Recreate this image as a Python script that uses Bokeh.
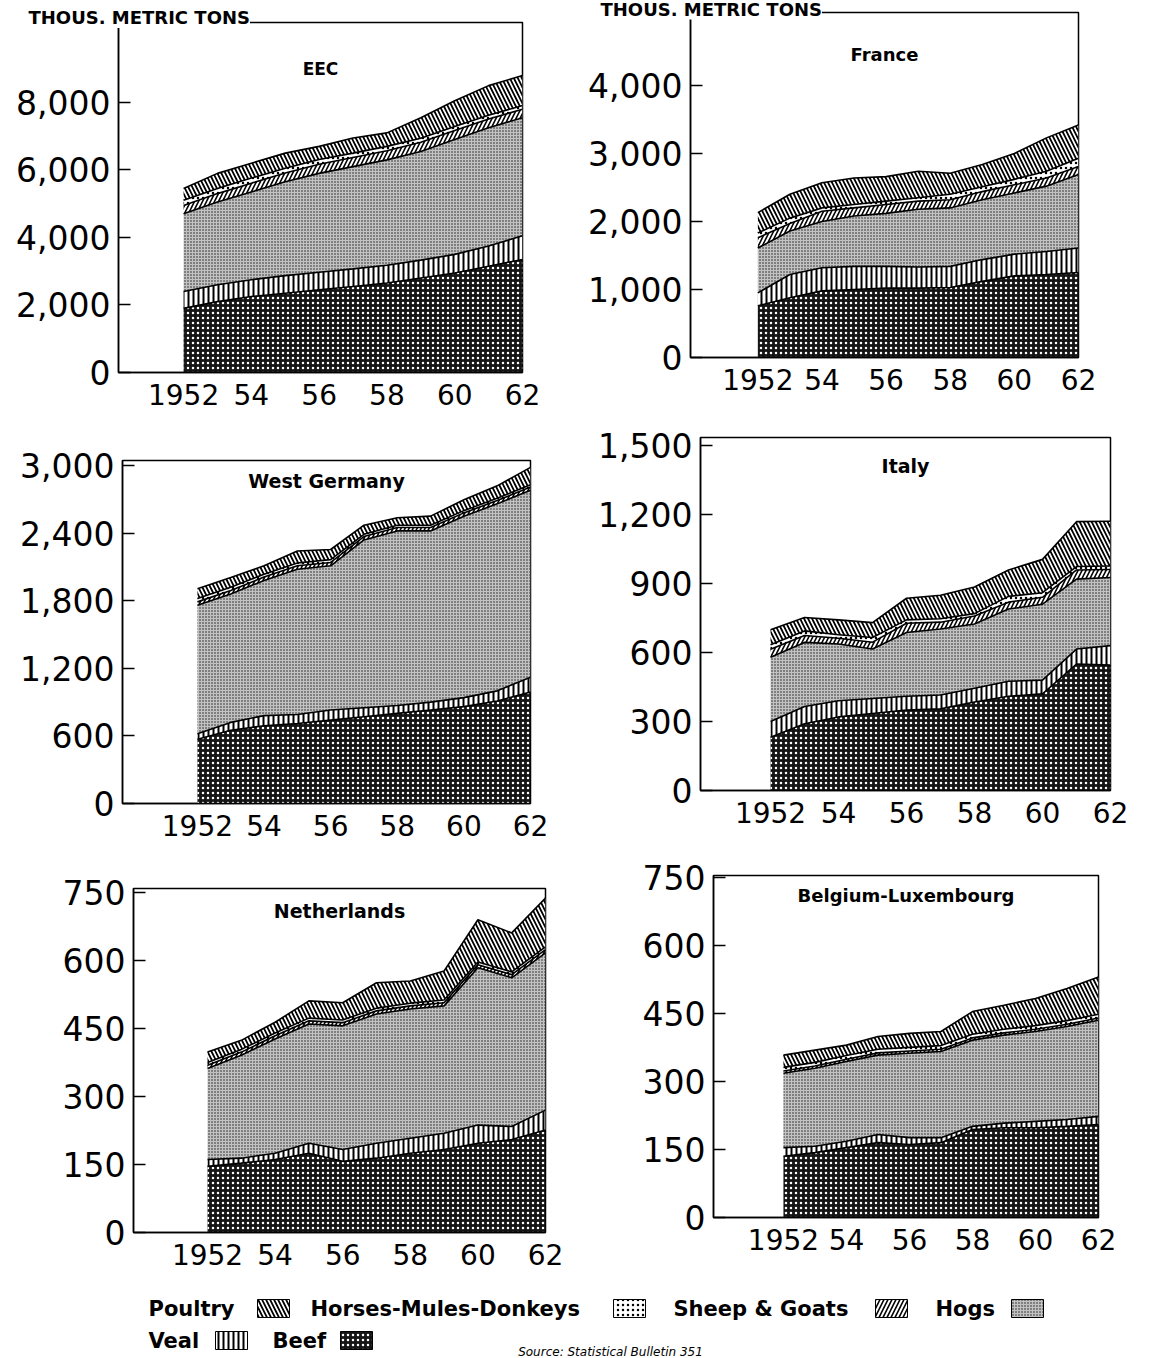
from bokeh.plotting import figure
from bokeh.models import ColumnDataSource, FixedTicker, Range1d, Label, NumeralTickFormatter
from bokeh.layouts import column, row
from bokeh.embed import file_html
from bokeh.resources import INLINE
from bokeh.core.properties import value

# ---------------- data (thousand metric tons) ----------------
years = [1952, 1953, 1954, 1955, 1956, 1957, 1958, 1959, 1960, 1961, 1962]
layers = ["beef", "veal", "hogs", "sheep", "horses", "poultry"]
layer_names = ["Beef", "Veal", "Hogs", "Sheep & Goats", "Horses-Mules-Donkeys", "Poultry"]

eec_beef = [1900, 2100, 2250, 2350, 2450, 2550, 2650, 2800, 2950, 3150, 3350]
eec_veal = [500, 500, 500, 520, 520, 520, 530, 530, 550, 600, 700]
eec_hogs = [2300, 2450, 2600, 2780, 2930, 3030, 3120, 3220, 3400, 3500, 3500]
eec_sheep = [250, 250, 260, 260, 270, 270, 270, 270, 270, 260, 250]
eec_horses = [150, 150, 150, 140, 140, 130, 130, 120, 120, 110, 110]
eec_poultry = [350, 450, 440, 450, 390, 450, 400, 610, 760, 880, 890]

fr_beef = [760, 880, 980, 1000, 1020, 1020, 1030, 1120, 1200, 1220, 1250]
fr_veal = [190, 340, 340, 340, 320, 310, 310, 320, 320, 340, 360]
fr_hogs = [660, 640, 680, 740, 780, 850, 860, 880, 900, 960, 1080]
fr_sheep = [150, 110, 150, 120, 130, 120, 120, 120, 120, 120, 120]
fr_horses = [70, 80, 50, 50, 50, 50, 80, 70, 80, 100, 120]
fr_poultry = [300, 350, 370, 390, 360, 390, 310, 330, 380, 490, 490]

wg_beef = [570, 650, 690, 710, 740, 770, 800, 830, 860, 910, 990]
wg_veal = [50, 70, 90, 80, 90, 80, 70, 70, 80, 90, 130]
wg_hogs = [1140, 1140, 1200, 1290, 1280, 1490, 1550, 1520, 1610, 1660, 1660]
wg_sheep = [30, 30, 30, 30, 30, 30, 30, 30, 30, 30, 30]
wg_horses = [30, 30, 25, 25, 25, 20, 20, 20, 20, 20, 20]
wg_poultry = [86, 86, 76, 106, 90, 81, 67, 81, 96, 110, 154]

it_beef = [232, 290, 320, 335, 350, 355, 385, 410, 420, 550, 545]
it_veal = [68, 75, 70, 65, 60, 60, 60, 65, 60, 65, 85]
it_hogs = [279, 279, 247, 215, 277, 287, 279, 314, 330, 304, 296]
it_sheep = [35, 30, 25, 30, 40, 30, 35, 30, 30, 40, 35]
it_horses = [20, 20, 15, 20, 15, 15, 10, 25, 20, 15, 15]
it_poultry = [65, 58, 65, 65, 94, 102, 116, 115, 145, 195, 195]

nl_beef = [146, 153, 161, 175, 157, 164, 175, 183, 197, 205, 226]
nl_veal = [15, 11, 14, 22, 26, 33, 33, 36, 40, 29, 44]
nl_hogs = [201, 227, 252, 263, 273, 285, 285, 281, 347, 328, 347]
nl_sheep = [7, 7, 7, 7, 7, 7, 7, 7, 7, 7, 7]
nl_horses = [6, 6, 6, 6, 6, 6, 6, 6, 6, 6, 6]
nl_poultry = [23, 20, 24, 38, 38, 56, 49, 64, 93, 86, 108]

bl_beef = [135, 143, 154, 165, 161, 165, 194, 198, 198, 201, 205]
bl_veal = [19, 14, 14, 18, 15, 11, 7, 10, 14, 15, 18]
bl_hogs = [164, 172, 176, 175, 186, 190, 190, 194, 198, 205, 212]
bl_sheep = [5, 5, 5, 5, 5, 5, 5, 5, 5, 5, 5]
bl_horses = [8, 8, 8, 8, 8, 8, 8, 8, 8, 8, 8]
bl_poultry = [27, 27, 23, 28, 31, 31, 50, 53, 60, 71, 82]

x_ticks = [1952, 1954, 1956, 1958, 1960, 1962]
x_tick_labels = ["1952", "54", "56", "58", "60", "62"]

eec_yticks = [0, 2000, 4000, 6000, 8000]
fr_yticks = [0, 1000, 2000, 3000, 4000]
wg_yticks = [0, 600, 1200, 1800, 2400, 3000]
it_yticks = [0, 300, 600, 900, 1200, 1500]
nl_yticks = [0, 150, 300, 450, 600, 750]
bl_yticks = [0, 150, 300, 450, 600, 750]

unit_label = "THOUS. METRIC TONS"
source_note = "Source: Statistical Bulletin 351"

# ---------------- styles ----------------
STYLE = {
    "beef": dict(fill_color="#151515", hatch_pattern="dot", hatch_color="white", hatch_scale=5, hatch_weight=1.3),
    "veal": dict(fill_color="white", hatch_pattern="vertical_line", hatch_color="black", hatch_scale=5, hatch_weight=2),
    "hogs": dict(fill_color="#c2c2c2", hatch_pattern="dot", hatch_color="#1a1a1a", hatch_scale=3, hatch_weight=1.1),
    "sheep": dict(fill_color="white", hatch_pattern="right_diagonal_line", hatch_color="black", hatch_scale=8, hatch_weight=1.6),
    "horses": dict(fill_color="white", hatch_pattern="dot", hatch_color="black", hatch_scale=5, hatch_weight=1.5),
    "poultry": dict(fill_color="white", hatch_pattern="left_diagonal_line", hatch_color="black", hatch_scale=8, hatch_weight=1.8),
}

FONT = "DejaVu Sans"

panels = [
    dict(name="EEC", data=[eec_beef, eec_veal, eec_hogs, eec_sheep, eec_horses, eec_poultry], yticks=eec_yticks,
         y_end=10370, x_start=1950.08, w=578, h=420, bl=118, br=56, bt=22, bb=48, tdy=46, unit=True,
         ustand=-11, tsize=17),
    dict(name="France", data=[fr_beef, fr_veal, fr_hogs, fr_sheep, fr_horses, fr_poultry], yticks=fr_yticks,
         y_end=5074, x_start=1949.9, w=578, h=420, bl=112, br=78, bt=12, bb=63, tdy=42, unit=True,
         ustand=-14, tsize=18),
    dict(name="West Germany", data=[wg_beef, wg_veal, wg_hogs, wg_sheep, wg_horses, wg_poultry], yticks=wg_yticks,
         y_end=3045, x_start=1949.75, w=578, h=430, bl=122, br=48, bt=40, bb=47, tdy=20, unit=False,
         ustand=0, tsize=19),
    dict(name="Italy", data=[it_beef, it_veal, it_hogs, it_sheep, it_horses, it_poultry], yticks=it_yticks,
         y_end=1535, x_start=1949.94, w=578, h=430, bl=122, br=46, bt=17, bb=60, tdy=28, unit=False,
         ustand=0, tsize=19),
    dict(name="Netherlands", data=[nl_beef, nl_veal, nl_hogs, nl_sheep, nl_horses, nl_poultry], yticks=nl_yticks,
         y_end=759, x_start=1949.81, w=578, h=427, bl=133, br=33, bt=38, bb=45, tdy=22, unit=False,
         ustand=0, tsize=19),
    dict(name="Belgium-Luxembourg", data=[bl_beef, bl_veal, bl_hogs, bl_sheep, bl_horses, bl_poultry], yticks=bl_yticks,
         y_end=754, x_start=1949.78, w=578, h=427, bl=135, br=58, bt=25, bb=60, tdy=20, unit=False,
         ustand=0, tsize=18),
]


def make_panel(cfg):
    x_end = 1962.0
    src = ColumnDataSource(dict(year=years, **{k: v for k, v in zip(layers, cfg["data"])}))
    p = figure(width=cfg["w"], height=cfg["h"], output_backend="svg", toolbar_location=None,
               x_range=Range1d(cfg["x_start"], x_end), y_range=Range1d(0, cfg["y_end"]),
               min_border_left=cfg["bl"], min_border_right=cfg["br"],
               min_border_top=cfg["bt"], min_border_bottom=cfg["bb"])
    p.background_fill_color = "white"
    p.border_fill_color = "white"
    p.outline_line_color = "black"
    p.outline_line_width = 1.5
    p.grid.visible = False

    if cfg["unit"]:
        p.title.text = unit_label
        p.title.align = "left"
        p.title.offset = -90
        p.title.standoff = cfg["ustand"]
        p.title.text_font = FONT
        p.title.text_font_style = "bold"
        p.title.text_font_size = "18px"
        p.title.text_color = "black"
        p.title.background_fill_color = "white"
    else:
        p.title.text = ""
        p.title.text_font_size = "0px"
        p.title.standoff = 0

    p.varea_stack(layers, x="year", source=src,
                  fill_color=[STYLE[k]["fill_color"] for k in layers],
                  hatch_pattern=[STYLE[k]["hatch_pattern"] for k in layers],
                  hatch_color=[STYLE[k]["hatch_color"] for k in layers],
                  hatch_scale=[STYLE[k]["hatch_scale"] for k in layers],
                  hatch_weight=[STYLE[k]["hatch_weight"] for k in layers])
    p.vline_stack(layers, x="year", source=src, line_color="black", line_width=1.6)

    xa = p.xaxis[0]
    xa.ticker = FixedTicker(ticks=x_ticks)
    xa.major_label_overrides = {t: l for t, l in zip(x_ticks, x_tick_labels)}
    xa.major_tick_in = 0
    xa.major_tick_out = 0
    xa.minor_tick_line_color = None
    xa.axis_line_width = 1.5
    xa.major_label_text_font = FONT
    xa.major_label_text_font_size = "28px"
    xa.major_label_text_color = "black"
    xa.major_label_standoff = 11

    ya = p.yaxis[0]
    ya.ticker = FixedTicker(ticks=cfg["yticks"])
    ya.formatter = NumeralTickFormatter(format="0,0")
    ya.major_tick_in = 12
    ya.major_tick_out = 0
    ya.major_tick_line_width = 1.5
    ya.minor_tick_line_color = None
    ya.axis_line_width = 1.5
    ya.major_label_text_font = FONT
    ya.major_label_text_font_size = "33px"
    ya.major_label_text_color = "black"
    ya.major_label_standoff = 8

    fh = cfg["h"] - cfg["bt"] - cfg["bb"]
    px_y = fh / cfg["y_end"]

    p.add_layout(Label(x=(cfg["x_start"] + x_end) / 2, y=cfg["y_end"] - cfg["tdy"] / px_y,
                       text=cfg["name"], text_align="center", text_baseline="middle",
                       text_font=FONT, text_font_style="bold", text_font_size=f"{cfg['tsize']}px",
                       text_color="black"))
    return p


figs = [make_panel(c) for c in panels]

# ---------------- legend strip ----------------
LEG_H = 81
leg = figure(width=1156, height=LEG_H, output_backend="svg", toolbar_location=None,
             x_range=Range1d(0, 1156), y_range=Range1d(LEG_H, 0),
             min_border=0)
leg.axis.visible = False
leg.grid.visible = False
leg.outline_line_color = None
leg.background_fill_color = "white"
leg.border_fill_color = "white"
leg.title.text_font_size = "0px"
leg.title.standoff = 0

legend_order = ["poultry", "horses", "sheep", "hogs", "veal", "beef"]
legend_text = ["Poultry", "Horses-Mules-Donkeys", "Sheep & Goats", "Hogs", "Veal", "Beef"]
legend_text_x = [148, 310, 673, 935, 148, 272]
legend_swatch_x = [273, 629, 891, 1027, 231, 356]
legend_row_y = [31, 31, 31, 31, 63, 63]

leg.text(x=legend_text_x, y=legend_row_y, text=legend_text, text_font=value(FONT),
         text_font_style="bold", text_font_size="21px", text_baseline="middle", text_align="left",
         text_color="black")
for k, sx, sy in zip(legend_order, legend_swatch_x, legend_row_y):
    leg.rect(x=[sx], y=[sy], width=32, height=18, line_color="black", line_width=1, **STYLE[k])
leg.text(x=[610], y=[74], text=[source_note], text_font=value(FONT), text_font_size="12px",
         text_font_style="italic", text_align="center", text_baseline="middle", text_color="black")

# wrap each panel separately so that Bokeh does not align frames across a row
layout = column(
    row(column(figs[0]), column(figs[1])),
    row(column(figs[2]), column(figs[3])),
    row(column(figs[4]), column(figs[5])),
    leg,
)

with open("out.html", "w") as f:
    f.write(file_html(layout, INLINE))
